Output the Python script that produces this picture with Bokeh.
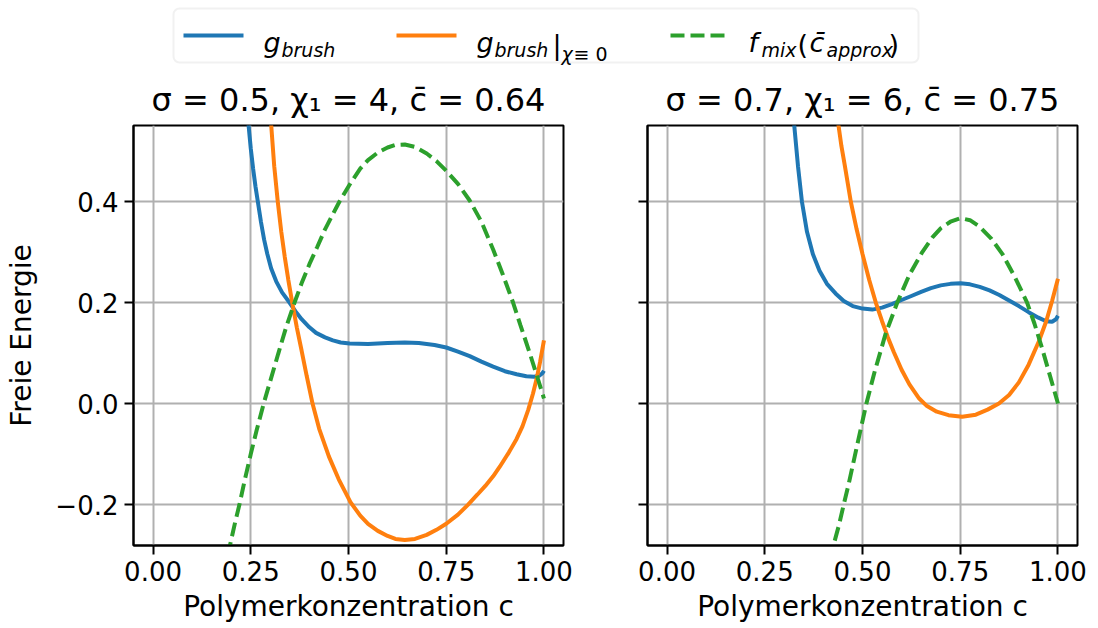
from bokeh.plotting import figure
from bokeh.layouts import column, row
from bokeh.models import Range1d, FixedTicker, BoxAnnotation
from bokeh.core.properties import value
from bokeh.embed import file_html
from bokeh.resources import INLINE

# ---------------- data ----------------
# Left panel: sigma = 0.5, chi1 = 4, cbar = 0.64
c_left_brush = [0.236, 0.240, 0.244, 0.250, 0.256, 0.262, 0.268, 0.276, 0.284, 0.292, 0.302,
                0.315, 0.330, 0.349, 0.365, 0.380, 0.400, 0.417, 0.440, 0.460, 0.480, 0.503,
                0.550, 0.600, 0.644, 0.680, 0.720, 0.750, 0.780, 0.810, 0.840, 0.870, 0.900,
                0.930, 0.955, 0.975, 0.988, 0.996, 1.0]
g_left_brush = [0.64, 0.595, 0.554, 0.505, 0.465, 0.430, 0.400, 0.360, 0.325, 0.297, 0.268,
                0.242, 0.220, 0.200, 0.182, 0.167, 0.151, 0.140, 0.131, 0.125, 0.121, 0.119,
                0.118, 0.120, 0.121, 0.120, 0.116, 0.111, 0.103, 0.094, 0.083, 0.073, 0.064,
                0.058, 0.054, 0.053, 0.055, 0.060, 0.065]

c_left_chi0 = [0.296, 0.302, 0.310, 0.319, 0.328, 0.337, 0.346, 0.356, 0.368, 0.380, 0.393,
               0.408, 0.425, 0.450, 0.475, 0.505, 0.530, 0.550, 0.575, 0.600, 0.620, 0.644,
               0.670, 0.700, 0.725, 0.750, 0.780, 0.806, 0.830, 0.850, 0.870, 0.887, 0.910,
               0.930, 0.945, 0.960, 0.972, 0.981, 0.990, 1.0]
g_left_chi0 = [0.63, 0.554, 0.470, 0.400, 0.340, 0.290, 0.245, 0.200, 0.150, 0.105, 0.055,
               0.0, -0.050, -0.105, -0.150, -0.195, -0.222, -0.238, -0.252, -0.262, -0.268, -0.270,
               -0.268, -0.260, -0.250, -0.238, -0.220, -0.200, -0.180, -0.163, -0.144, -0.125, -0.097,
               -0.070, -0.045, -0.012, 0.020, 0.048, 0.082, 0.125]

c_left_mix = [0.180, 0.197, 0.210, 0.221, 0.235, 0.250, 0.265, 0.283, 0.300, 0.320, 0.340,
              0.362, 0.380, 0.400, 0.420, 0.440, 0.460, 0.477, 0.505, 0.530, 0.550, 0.575,
              0.600, 0.620, 0.644, 0.670, 0.700, 0.725, 0.750, 0.780, 0.810, 0.840, 0.870,
              0.895, 0.921, 0.940, 0.964, 0.982, 1.0]
f_left_mix = [-0.34, -0.28, -0.235, -0.200, -0.150, -0.100, -0.053, 0.0, 0.045, 0.098, 0.150,
              0.200, 0.238, 0.276, 0.310, 0.345, 0.375, 0.400, 0.436, 0.465, 0.482, 0.497,
              0.507, 0.512, 0.513, 0.508, 0.495, 0.480, 0.461, 0.435, 0.402, 0.360, 0.305,
              0.255, 0.200, 0.155, 0.099, 0.055, 0.010]

# Right panel: sigma = 0.7, chi1 = 6, cbar = 0.75
c_right_brush = [0.318, 0.325, 0.335, 0.345, 0.358, 0.373, 0.390, 0.409, 0.431, 0.452, 0.475,
                 0.500, 0.525, 0.550, 0.575, 0.600, 0.625, 0.650, 0.675, 0.700, 0.725, 0.751,
                 0.775, 0.800, 0.825, 0.850, 0.875, 0.900, 0.925, 0.950, 0.970, 0.985, 0.995,
                 1.0]
g_right_brush = [0.63, 0.554, 0.470, 0.400, 0.340, 0.296, 0.263, 0.237, 0.218, 0.203, 0.193,
                 0.188, 0.186, 0.190, 0.197, 0.205, 0.213, 0.221, 0.2285, 0.234, 0.237, 0.238,
                 0.236, 0.231, 0.224, 0.215, 0.204, 0.193, 0.181, 0.170, 0.163, 0.162, 0.167,
                 0.174]

c_right_chi0 = [0.433, 0.438, 0.446, 0.455, 0.470, 0.485, 0.500, 0.517, 0.534, 0.550, 0.565,
                0.580, 0.600, 0.620, 0.645, 0.665, 0.690, 0.720, 0.755, 0.790, 0.820, 0.849,
                0.875, 0.900, 0.925, 0.951, 0.970, 0.985, 1.0]
g_right_chi0 = [0.585, 0.554, 0.510, 0.470, 0.400, 0.345, 0.296, 0.245, 0.200, 0.163, 0.131,
                0.102, 0.067, 0.038, 0.010, -0.005, -0.016, -0.023, -0.026, -0.022, -0.012, 0.0,
                0.017, 0.042, 0.077, 0.123, 0.163, 0.203, 0.247]

c_right_mix = [0.418, 0.426, 0.440, 0.452, 0.465, 0.480, 0.495, 0.510, 0.530, 0.559, 0.589,
               0.620, 0.653, 0.680, 0.700, 0.725, 0.751, 0.775, 0.800, 0.830, 0.858, 0.890,
               0.921, 0.940, 0.960, 0.980, 1.0]
f_right_mix = [-0.31, -0.28, -0.240, -0.200, -0.158, -0.105, -0.052, 0.0, 0.060, 0.138, 0.200,
               0.255, 0.300, 0.330, 0.347, 0.360, 0.367, 0.363, 0.350, 0.326, 0.296, 0.250,
               0.200, 0.158, 0.108, 0.054, 0.0]

x_ticks = [0.0, 0.25, 0.5, 0.75, 1.0]
x_tick_labels = ["0.00", "0.25", "0.50", "0.75", "1.00"]
y_ticks = [-0.2, 0.0, 0.2, 0.4]
y_tick_labels = ["\u22120.2", "0.0", "0.2", "0.4"]

titles = ["\u03c3 = 0.5, \u03c7\u2081 = 4, c\u0304 = 0.64",
          "\u03c3 = 0.7, \u03c7\u2081 = 6, c\u0304 = 0.75"]
x_label = "Polymerkonzentration c"
y_label = "Freie Energie"

BLUE, ORANGE, GREEN = "#1f77b4", "#ff7f0e", "#2ca02c"
FONT = "DejaVu Sans"

y_range = Range1d(-0.281, 0.5505)


def make_panel(title, show_ylab, min_left, min_right):
    p = figure(output_backend="svg", toolbar_location=None,
               frame_width=430, frame_height=420,
               x_range=Range1d(-0.05, 1.05), y_range=y_range,
               min_border_left=min_left, min_border_right=min_right,
               min_border_top=55, min_border_bottom=83)
    p.title.text = title
    p.title.align = "center"
    p.title.text_font = FONT
    p.title.text_font_size = "32px"
    p.title.text_font_style = "normal"
    p.title.text_color = "black"
    p.title.standoff = 14
    p.outline_line_color = "black"
    p.outline_line_width = 2
    p.outline_line_alpha = 1
    p.background_fill_color = "white"
    p.border_fill_color = "white"

    p.xaxis.ticker = FixedTicker(ticks=x_ticks)
    p.xaxis.major_label_overrides = {t: l for t, l in zip(x_ticks, x_tick_labels)}
    p.xaxis.axis_label = x_label
    p.yaxis.ticker = FixedTicker(ticks=y_ticks)
    if show_ylab:
        p.yaxis.major_label_overrides = {t: l for t, l in zip(y_ticks, y_tick_labels)}
        p.yaxis.axis_label = y_label
    else:
        p.yaxis.major_label_overrides = {t: "" for t in y_ticks}
    for ax in p.axis:
        ax.axis_line_color = "black"
        ax.axis_line_width = 2
        ax.major_tick_line_color = "black"
        ax.major_tick_line_width = 2
        ax.major_tick_out = 9
        ax.major_tick_in = 0
        ax.minor_tick_out = 0
        ax.minor_tick_in = 0
        ax.major_label_text_font = FONT
        ax.major_label_text_font_size = "26px"
        ax.major_label_text_color = "black"
        ax.major_label_standoff = 6
        ax.axis_label_text_font = FONT
        ax.axis_label_text_font_size = "28px"
        ax.axis_label_text_font_style = "normal"
        ax.axis_label_text_color = "black"
        ax.axis_label_standoff = 6
    p.yaxis.axis_label_standoff = 14
    p.xgrid.ticker = FixedTicker(ticks=x_ticks)
    p.ygrid.ticker = FixedTicker(ticks=y_ticks)
    for g in (p.xgrid, p.ygrid):
        g.grid_line_color = "#b0b0b0"
        g.grid_line_width = 2
        g.grid_line_alpha = 1
    return p


p1 = make_panel(titles[0], True, 133, 36)
p1.line(c_left_brush, g_left_brush, line_color=BLUE, line_width=4)
p1.line(c_left_chi0, g_left_chi0, line_color=ORANGE, line_width=4)
p1.line(c_left_mix, f_left_mix, line_color=GREEN, line_width=4, line_dash="14 6")

p2 = make_panel(titles[1], False, 48, 19)
p2.line(c_right_brush, g_right_brush, line_color=BLUE, line_width=4)
p2.line(c_right_chi0, g_right_chi0, line_color=ORANGE, line_width=4)
p2.line(c_right_mix, f_right_mix, line_color=GREEN, line_width=4, line_dash="14 6")

# ---------------- legend strip ----------------
leg = figure(output_backend="svg", toolbar_location=None, width=1098, height=70,
             x_range=Range1d(0, 1098), y_range=Range1d(70, 0),
             x_axis_type=None, y_axis_type=None, min_border=0)
leg.outline_line_color = None
leg.background_fill_color = "white"
leg.border_fill_color = "white"
leg.xgrid.visible = False
leg.ygrid.visible = False
leg.add_layout(BoxAnnotation(left=173, right=918, top=8, bottom=62, level="underlay",
                             fill_color="white", fill_alpha=1,
                             line_color="#d0d0d0", line_width=2, border_radius=6))
leg.line([183, 243], [35, 35], line_color=BLUE, line_width=4)
leg.line([396, 456], [35, 35], line_color=ORANGE, line_width=4)
leg.line([670, 728], [35, 35], line_color=GREEN, line_width=4, line_dash="14 6")

big = dict(text_font=value(FONT), text_font_size=value("27px"), text_baseline="alphabetic",
           text_align="left", text_color="black")
small = dict(text_font=value(FONT), text_font_size=value("19px"), text_baseline="alphabetic",
             text_align="left", text_color="black")
leg.text(x=[263, 476, 748, 809], y=[42, 42, 42, 42], text=["g", "g", "f", "c\u0304"],
         text_font_style="italic", **big)
leg.text(x=[552, 797, 888], y=[44, 44, 44], text=["|", "(", ")"], text_font_style="normal", **big)
leg.text(x=[281, 494, 761, 826, 561], y=[49, 49, 49, 49, 53],
         text=["brush", "brush", "mix", "approx", "\u03c7"], text_font_style="italic", **small)
leg.text(x=[573], y=[53], text=["\u2261 0"], text_font_style="normal", **small)

layout = column(leg, row(p1, p2))
open("out.html", "w").write(file_html(layout, INLINE))
